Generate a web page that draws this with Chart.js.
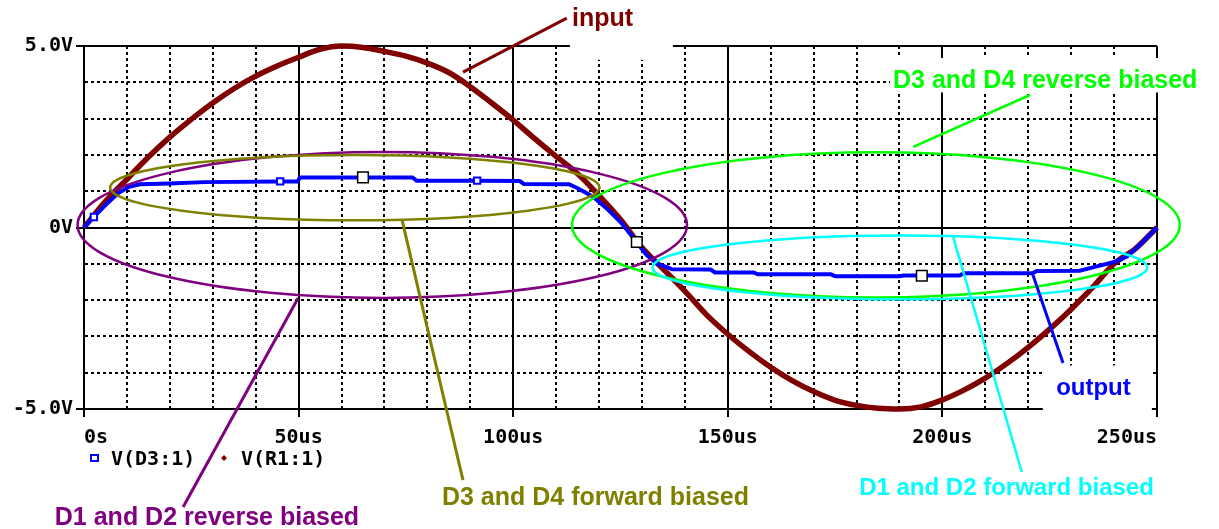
<!DOCTYPE html>
<html>
<head>
<meta charset="utf-8">
<title>Bridge rectifier transient</title>
<script src="https://cdn.jsdelivr.net/npm/chart.js@4.4.1/dist/chart.umd.min.js"></script>
<style>
  html, body { margin: 0; padding: 0; background: #fff; }
  #wrap { width: 1219px; height: 529px; }
</style>
</head>
<body>
<div id="wrap"><canvas id="scope" width="1219" height="529"></canvas></div>
<script>
// V(R1:1) - source side of the bridge, sampled every 5us
const inputTimes = [0, 5, 10, 15, 20, 25, 30, 35, 40, 45, 50, 55, 60, 65, 70, 75, 80, 85, 90, 95,
  100, 105, 110, 115, 120, 125, 130, 135, 140, 145, 150, 155, 160, 165, 170, 175, 180, 185, 190, 195,
  200, 205, 210, 215, 220, 225, 230, 235, 240, 245, 250];
const inputVolts = [0, 0.72, 1.33, 1.94, 2.49, 2.98, 3.43, 3.83, 4.17, 4.45, 4.69, 4.91, 5.0, 4.96, 4.85, 4.72, 4.53, 4.27, 3.88, 3.43,
  2.96, 2.45, 1.96, 1.48, 0.88, 0.22, -0.55, -1.15, -1.75, -2.40, -2.94, -3.42, -3.85, -4.22, -4.52, -4.76, -4.90, -4.98, -5.0, -4.94,
  -4.75, -4.48, -4.15, -3.75, -3.30, -2.80, -2.25, -1.65, -1.0, -0.58, 0];

// V(D3:1) - clamped output
const outputTimes = [0, 2.3, 5, 8, 10.5, 13, 20, 28, 45.7, 49.8, 50.3, 76.5, 77.5, 91.6, 101.5, 102.5,
  113, 115, 118.6, 122, 125, 128.8, 131, 133.5, 136, 137, 146, 147, 156, 157, 174, 175, 190, 191,
  204, 205, 221, 222, 232, 236, 240, 243, 246, 250];
const outputVolts = [0, 0.29, 0.62, 0.95, 1.12, 1.19, 1.21, 1.25, 1.27, 1.27, 1.38, 1.38, 1.29, 1.29, 1.28, 1.2,
  1.19, 1.08, 0.85, 0.5, 0.15, -0.4, -0.75, -1.0, -1.1, -1.15, -1.16, -1.24, -1.24, -1.29, -1.29, -1.34, -1.34, -1.32,
  -1.32, -1.26, -1.26, -1.2, -1.19, -1.07, -0.95, -0.8, -0.48, 0];

// trace symbols on the output and the probe cursors
const markerTimes = [2.3, 45.7, 91.6];
const cursorTimes = [65, 128.8, 195.2];
const cursorVolts = [1.38, -0.4, -1.33];

const xTickLabels = { 0: '0s', 50: '50us', 100: '100us', 150: '150us', 200: '200us', 250: '250us' };
const yTickLabels = { 5: '5.0V', 0: '0V', '-5': '-5.0V' };

// bias regions, in axis units (us, V)
const regions = [
  { color: '#800080', cx: 69.5, cy: 0.07, rx: 71, ry: 2.01 },
  { color: '#808000', cx: 63.1, cy: 1.1, rx: 57, ry: 0.9 },
  { color: '#00ff00', cx: 184.5, cy: 0.07, rx: 70.8, ry: 2.0 },
  { color: '#00ffff', cx: 190.1, cy: -1.1, rx: 57.6, ry: 0.88 }
];

const callouts = [
  { text: 'input', color: '#800000', size: 25, from: [88.3, 4.28], to: [112.5, 5.77], at: [113.7, 5.55], width: 3 },
  { text: 'D3 and D4 reverse biased', color: '#00ff00', size: 25, from: [193.2, 2.22], to: [220.4, 3.65], at: [188.5, 3.84], width: 2.5 },
  { text: 'output', color: '#0000ff', size: 24, from: [221.1, -1.31], to: [228.1, -3.73], at: [226.5, -4.61], width: 3 },
  { text: 'D1 and D2 reverse biased', color: '#800080', size: 25, from: [49.9, -1.94], to: [23.1, -7.7], at: [-6.8, -8.2], width: 3 },
  { text: 'D3 and D4 forward biased', color: '#808000', size: 25, from: [74.1, 0.21], to: [88.3, -6.96], at: [83.4, -7.64], width: 3 },
  { text: 'D1 and D2 forward biased', color: '#00ffff', size: 24, from: [202.5, -0.26], to: [218.5, -6.74], at: [180.6, -7.37], width: 2.5 }
];

// white patches behind the labels that sit on the grid
const masks = [
  { t0: 113.2, t1: 137.2, v0: 6.3, v1: 4.62 },
  { t0: 187.8, t1: 264, v0: 4.67, v1: 3.72 },
  { t0: 223.4, t1: 248.8, v0: -3.8, v1: -5.3 }
];

const monoFont = { family: '"DejaVu Sans Mono", monospace', size: 20, weight: 'bold' };

const pairs = (ts, vs) => ts.map((t, i) => ({ x: t, y: vs[i] }));
const isMajorX = v => v % 50 === 0;
const isMajorY = v => v % 5 === 0;

const annotate = {
  id: 'annotate',
  afterDraw(chart) {
    const { ctx, scales: { x, y } } = chart;
    const px = t => x.getPixelForValue(t);
    const py = v => y.getPixelForValue(v);
    ctx.save();

    ctx.fillStyle = '#fff';
    masks.forEach(m => {
      ctx.fillRect(px(m.t0), py(m.v0), px(m.t1) - px(m.t0), py(m.v1) - py(m.v0));
    });

    ctx.lineWidth = 2.5;
    regions.forEach(r => {
      ctx.strokeStyle = r.color;
      ctx.beginPath();
      ctx.ellipse(px(r.cx), py(r.cy), px(r.cx + r.rx) - px(r.cx), py(r.cy - r.ry) - py(r.cy), 0, 0, Math.PI * 2);
      ctx.stroke();
    });

    ctx.textAlign = 'left';
    ctx.textBaseline = 'alphabetic';
    callouts.forEach(c => {
      ctx.strokeStyle = c.color;
      ctx.lineWidth = c.width;
      ctx.beginPath();
      ctx.moveTo(px(c.from[0]), py(c.from[1]));
      ctx.lineTo(px(c.to[0]), py(c.to[1]));
      ctx.stroke();
      ctx.fillStyle = c.color;
      ctx.font = `bold ${c.size}px "Liberation Sans", Arial, sans-serif`;
      ctx.fillText(c.text, px(c.at[0]), py(c.at[1]));
    });

    // trace legend under the time axis
    const area = chart.chartArea;
    const ly = area.bottom + 49;
    let lx = area.left + 10;
    ctx.font = `bold ${monoFont.size}px ${monoFont.family}`;
    chart.data.datasets.filter(d => d.label).forEach(d => {
      ctx.strokeStyle = d.borderColor;
      ctx.fillStyle = d.borderColor;
      if (d.legendSymbol === 'square') {
        ctx.lineWidth = 2;
        ctx.strokeRect(lx - 3, ly - 3, 7, 6);
      } else {
        ctx.beginPath();
        ctx.moveTo(lx, ly - 3);
        ctx.lineTo(lx + 3, ly);
        ctx.lineTo(lx, ly + 3);
        ctx.lineTo(lx - 3, ly);
        ctx.closePath();
        ctx.fill();
      }
      ctx.fillStyle = '#000';
      ctx.fillText(d.label, lx + 17, ly + 7);
      lx += 130;
    });

    ctx.restore();
  }
};

new Chart(document.getElementById('scope'), {
  type: 'line',
  data: {
    datasets: [
      {
        data: pairs(cursorTimes, cursorVolts),
        showLine: false,
        pointStyle: 'rect',
        pointRadius: 7.5,
        pointBackgroundColor: '#fff',
        pointBorderColor: '#000',
        pointBorderWidth: 1.5,
        order: 0
      },
      {
        label: 'V(D3:1)',
        legendSymbol: 'square',
        data: pairs(outputTimes, outputVolts),
        borderColor: '#0000ff',
        borderWidth: 4,
        tension: 0,
        pointStyle: 'rect',
        pointRadius: c => (c.raw && markerTimes.includes(c.raw.x) ? 4.5 : 0),
        pointBackgroundColor: '#fff',
        pointBorderColor: '#0000ff',
        pointBorderWidth: 2,
        clip: false,
        order: 1
      },
      {
        label: 'V(R1:1)',
        legendSymbol: 'diamond',
        data: pairs(inputTimes, inputVolts),
        borderColor: '#800000',
        borderWidth: 5.5,
        cubicInterpolationMode: 'monotone',
        pointRadius: 0,
        clip: false,
        order: 2
      }
    ]
  },
  options: {
    responsive: false,
    devicePixelRatio: 1,
    animation: false,
    events: [],
    layout: { padding: { top: 46, right: 62, left: 0, bottom: 0 } },
    plugins: {
      legend: { display: false },
      tooltip: { enabled: false }
    },
    scales: {
      x: {
        type: 'linear',
        min: 0,
        max: 250,
        afterFit(scale) { scale.height = 120; },
        ticks: {
          stepSize: 10,
          autoSkip: false,
          maxRotation: 0,
          align: 'inner',
          padding: 9,
          color: '#000',
          font: monoFont,
          callback: v => xTickLabels[v] ?? ''
        },
        grid: {
          color: '#000',
          lineWidth: 2,
          tickLength: 8,
          tickColor: c => (isMajorX(c.tick.value) ? '#000' : 'rgba(0,0,0,0)')
        },
        border: {
          display: true,
          color: '#000',
          width: 2,
          dash: c => (c.tick && !isMajorX(c.tick.value) ? [3, 3] : [])
        }
      },
      y: {
        min: -5,
        max: 5,
        afterFit(scale) { scale.width = 84; },
        ticks: {
          stepSize: 1,
          autoSkip: false,
          padding: 3,
          color: '#000',
          font: monoFont,
          callback: v => yTickLabels[v] ?? ''
        },
        grid: {
          color: '#000',
          lineWidth: 2,
          tickLength: 8,
          tickColor: c => (isMajorY(c.tick.value) ? '#000' : 'rgba(0,0,0,0)')
        },
        border: {
          display: true,
          color: '#000',
          width: 2,
          dash: c => (c.tick && !isMajorY(c.tick.value) ? [3, 3] : [])
        }
      }
    }
  },
  plugins: [annotate]
});
</script>
</body>
</html>
